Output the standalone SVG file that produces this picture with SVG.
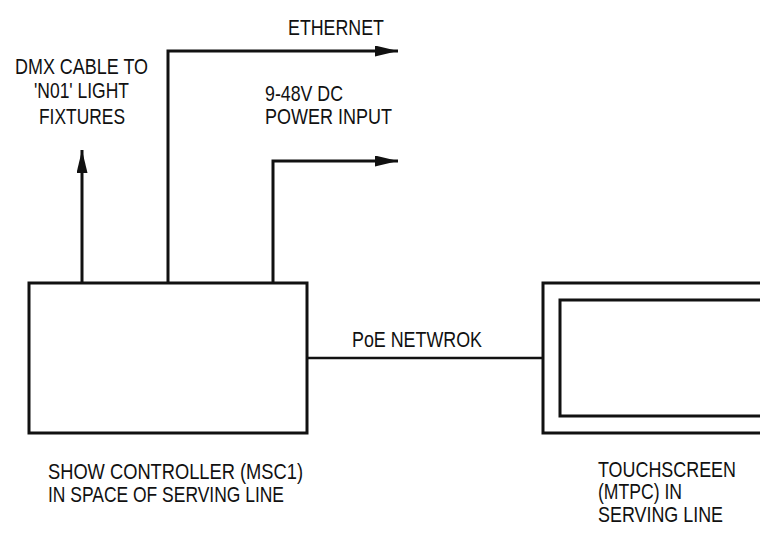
<svg xmlns="http://www.w3.org/2000/svg" width="760" height="551" viewBox="0 0 760 551">
<style>
text{font-family:"Liberation Sans",Arial,sans-serif;font-size:21.5px;fill:#111}
.ln{fill:none;stroke:#111;stroke-width:3}
.thin{fill:none;stroke:#111;stroke-width:2.5}
</style>
<defs>
<marker id="ah" markerUnits="userSpaceOnUse" markerWidth="24" markerHeight="12" refX="23" refY="5.5" orient="auto">
<path d="M0,0 L23,5.5 L0,11 Z" fill="#111"/>
</marker>
</defs>
<rect width="760" height="551" fill="#fff"/>
<g id="connectors">
<path class="ln" d="M82,283 V150" marker-end="url(#ah)"/>
<path class="ln" d="M168,283 V51 H398" marker-end="url(#ah)"/>
<path class="ln" d="M273,283 V161 H398" marker-end="url(#ah)"/>
<path class="thin" d="M307,358 H543"/>
</g>
<g id="show-controller">
<rect class="ln" x="29" y="283" width="278" height="150"/>
</g>
<g id="touchscreen">
<path class="ln" d="M765,283 H543 V433 H765"/>
<path class="ln" d="M765,300 H560 V416 H765"/>
</g>
<g id="labels">
<text x="15" y="74" textLength="133" lengthAdjust="spacingAndGlyphs">DMX CABLE TO</text>
<text x="34" y="98" textLength="95" lengthAdjust="spacingAndGlyphs">'N01' LIGHT</text>
<text x="39" y="124" textLength="86" lengthAdjust="spacingAndGlyphs">FIXTURES</text>
<text x="288" y="35" textLength="96" lengthAdjust="spacingAndGlyphs">ETHERNET</text>
<text x="265" y="101" textLength="78" lengthAdjust="spacingAndGlyphs">9-48V DC</text>
<text x="265" y="124" textLength="127" lengthAdjust="spacingAndGlyphs">POWER INPUT</text>
<text x="352" y="347" textLength="130" lengthAdjust="spacingAndGlyphs">PoE NETWROK</text>
<text x="48" y="479" textLength="255" lengthAdjust="spacingAndGlyphs">SHOW CONTROLLER (MSC1)</text>
<text x="48" y="502" textLength="236" lengthAdjust="spacingAndGlyphs">IN SPACE OF SERVING LINE</text>
<text x="598" y="477" textLength="138" lengthAdjust="spacingAndGlyphs">TOUCHSCREEN</text>
<text x="598" y="499" textLength="84" lengthAdjust="spacingAndGlyphs">(MTPC) IN</text>
<text x="598" y="522" textLength="125" lengthAdjust="spacingAndGlyphs">SERVING LINE</text>
</g>
</svg>
